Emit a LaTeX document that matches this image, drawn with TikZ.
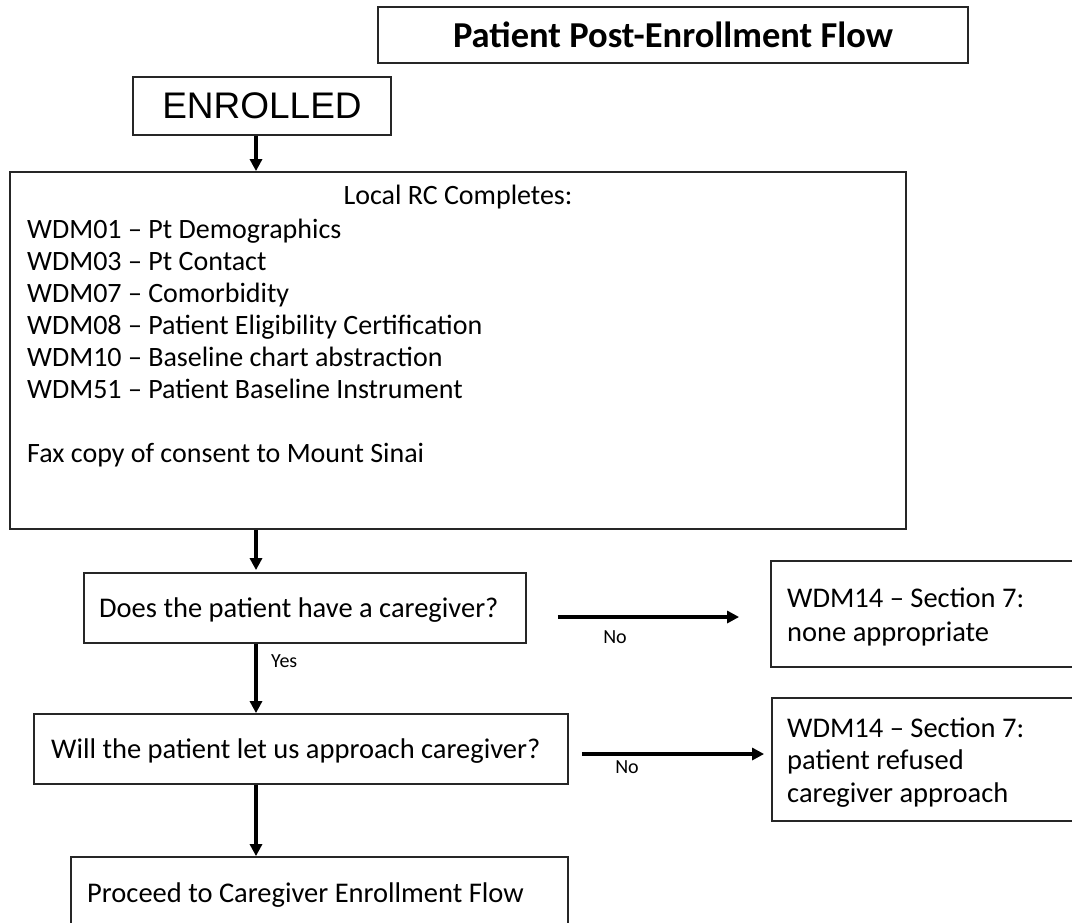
\documentclass[tikz,border=0pt]{standalone}
\usepackage{fontspec}
\setmainfont{Carlito}
\newfontfamily\arialf{Liberation Sans}
\usetikzlibrary{arrows.meta}
\begin{document}
\begin{tikzpicture}[x=1pt,y=-1pt,
  box/.style={draw=black!85, line width=1.8pt, rectangle, inner sep=0pt},
  arr/.style={line width=3.6pt, -{Triangle[length=12pt,width=12pt]}},
  txt/.style={anchor=base west, inner sep=0pt, font=\fontsize{28.5}{32}\selectfont},
  bigtxt/.style={anchor=base west, inner sep=0pt, font=\fontsize{28}{32}\selectfont},
  lbl/.style={inner sep=0pt, font=\fontsize{20}{24}\selectfont}]
\useasboundingbox (0,0) rectangle (1072,922);
% boxes
\node[box, minimum width=590pt, minimum height=56pt, font=\bfseries\fontsize{36.5}{40}\selectfont] (title) at (673,35) {Patient Post-Enrollment Flow};
\node[box, minimum width=258pt, minimum height=58pt, font=\arialf\fontsize{37}{40}\selectfont] (enr) at (262,106) {ENROLLED};
\node[box, minimum width=896pt, minimum height=357pt] (big) at (458,350.5) {};
\node[box, minimum width=442pt, minimum height=70pt] (care) at (305,608) {};
\node[box, minimum width=534pt, minimum height=70pt] (appr) at (301,749) {};
\node[box, minimum width=497pt, minimum height=103pt] (proc) at (319.5,908.5) {};
\node[box, minimum width=329pt, minimum height=106pt] (w1) at (935.5,614) {};
\node[box, minimum width=328pt, minimum height=123pt] (w2) at (936,759.5) {};
% texts
\node[bigtxt, anchor=base] (rc) at (458,204) {Local RC Completes:};
\node[bigtxt] (l1) at (27,238) {WDM01 – Pt Demographics};
\node[bigtxt] (l2) at (27,270) {WDM03 – Pt Contact};
\node[bigtxt] (l3) at (27,302) {WDM07 – Comorbidity};
\node[bigtxt] (l4) at (27,334) {WDM08 – Patient Eligibility Certification};
\node[bigtxt] (l5) at (27,366) {WDM10 – Baseline chart abstraction};
\node[bigtxt] (l6) at (27,398) {WDM51 – Patient Baseline Instrument};
\node[bigtxt] (l7) at (27,462) {Fax copy of consent to Mount Sinai};
\node[txt] (caret) at (99,617) {Does the patient have a caregiver?};
\node[txt] (apprt) at (51,758) {Will the patient let us approach caregiver?};
\node[txt] (proct) at (87,902) {Proceed to Caregiver Enrollment Flow};
\node[txt] (w1a) at (787,607) {WDM14 – Section 7:};
\node[txt] (w1b) at (787,641) {none appropriate};
\node[txt] (w2a) at (787,737) {WDM14 – Section 7:};
\node[txt] (w2b) at (787,769) {patient refused};
\node[txt] (w2c) at (787,802) {caregiver approach};
% connectors
\coordinate (ax) at (256,0);
\coordinate (y1) at (0,617);
\coordinate (y2) at (0,754);
\draw[arr] (enr.south -| ax) -- (big.north -| ax);
\draw[arr, shorten >=2pt] (big.south -| ax) -- (care.north -| ax);
\draw[arr] (care.south -| ax) -- (appr.north -| ax);
\draw[arr] (appr.south -| ax) -- (proc.north -| ax);
\draw[arr, shorten <=31pt, shorten >=31pt] (care.east |- y1) -- (w1.west |- y1);
\draw[arr, shorten <=13pt, shorten >=7pt] (appr.east |- y2) -- (w2.west |- y2);
% labels
\node[lbl, anchor=base] (no1) at (615,643) {No};
\node[lbl, anchor=base] (no2) at (627,773) {No};
\node[lbl, anchor=base west] (yes) at (271,667) {Yes};
\end{tikzpicture}
\end{document}
